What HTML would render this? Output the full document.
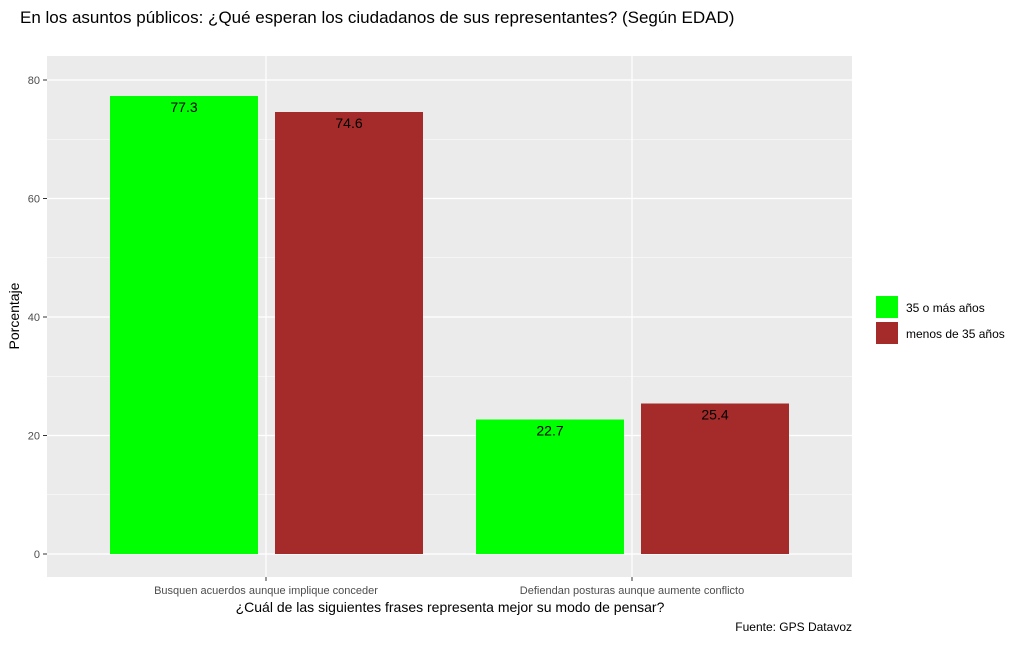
<!DOCTYPE html>
<html><head><meta charset="utf-8"><style>
body{margin:0;background:#fff;font-family:"Liberation Sans",Arial,sans-serif;}
</style></head><body>
<svg id="chart" width="1024" height="642" xmlns="http://www.w3.org/2000/svg">
<text x="20" y="23" font-size="17" fill="#000">En los asuntos públicos: ¿Qué esperan los ciudadanos de sus representantes? (Según EDAD)</text>
<rect x="47" y="56" width="805" height="521" fill="#ebebeb"/>
<g id="grid"></g>
<g id="bars"></g>
<g id="labels"></g>
<g id="axes"></g>
<text transform="translate(19,316) rotate(-90)" text-anchor="middle" font-size="14" fill="#000">Porcentaje</text>
<text x="450" y="612" text-anchor="middle" font-size="14" fill="#000">¿Cuál de las siguientes frases representa mejor su modo de pensar?</text>
<text x="852" y="631" text-anchor="end" font-size="12" fill="#000">Fuente: GPS Datavoz</text>
<g>
<rect x="876" y="296" width="22" height="22" fill="#00ff00"/>
<text x="906" y="312" font-size="12" fill="#000">35 o más años</text>
<rect x="876" y="322" width="22" height="22" fill="#a52a2a"/>
<text x="906" y="338" font-size="12" fill="#000">menos de 35 años</text>
</g>
</svg>
<script>
const categories=["Busquen acuerdos aunque implique conceder","Defiendan posturas aunque aumente conflicto"];
const seriesNames=["35 o más años","menos de 35 años"];
const seriesOlder=[77.3,22.7];
const seriesYounger=[74.6,25.4];
const yTicks=[0,20,40,60,80];
const yMinor=[10,30,50,70];
const colors=["#00ff00","#a52a2a"];
const NS="http://www.w3.org/2000/svg";
function y(v){return 554-v*5.925;}
function xc(i){return 266+i*366;}
function mk(tag,attrs,parent,text){const e=document.createElementNS(NS,tag);for(const k in attrs)e.setAttribute(k,attrs[k]);if(text!==undefined)e.textContent=text;document.getElementById(parent).appendChild(e);return e;}
yMinor.forEach(v=>{const l=mk('line',{x1:47,x2:852,y1:y(v),y2:y(v),stroke:'#fff','stroke-width':0.6},'grid');

});
yTicks.forEach(v=>{const l=mk('line',{x1:47,x2:852,y1:y(v),y2:y(v),stroke:'#fff','stroke-width':1.2},'grid');


const t=mk('line',{x1:43,x2:47,y1:y(v),y2:y(v),stroke:'#333','stroke-width':1},'axes');


const tx=mk('text',{x:40,y:y(v)+4,'text-anchor':'end','font-size':11,fill:'#4d4d4d'},'axes',String(v));

});
categories.forEach((c,i)=>{const g=mk('line',{x1:xc(i),x2:xc(i),y1:56,y2:577,stroke:'#fff','stroke-width':1.2},'grid');


const t=mk('line',{x1:xc(i),x2:xc(i),y1:577,y2:581,stroke:'#333','stroke-width':1},'axes');


const tx=mk('text',{x:xc(i),y:594,'text-anchor':'middle','font-size':11,fill:'#4d4d4d'},'axes',c);

});
[seriesOlder,seriesYounger].forEach((s,si)=>{s.forEach((v,i)=>{const x0=xc(i)+(si===0?-156:9);
const r=mk('rect',{x:x0,y:y(v),width:148,height:y(0)-y(v),fill:colors[si]},'bars');


const t=mk('text',{x:x0+74,y:y(v)+16,'text-anchor':'middle','font-size':14,fill:'#000'},'labels',v.toFixed(1));

});});
</script>
</body></html>
